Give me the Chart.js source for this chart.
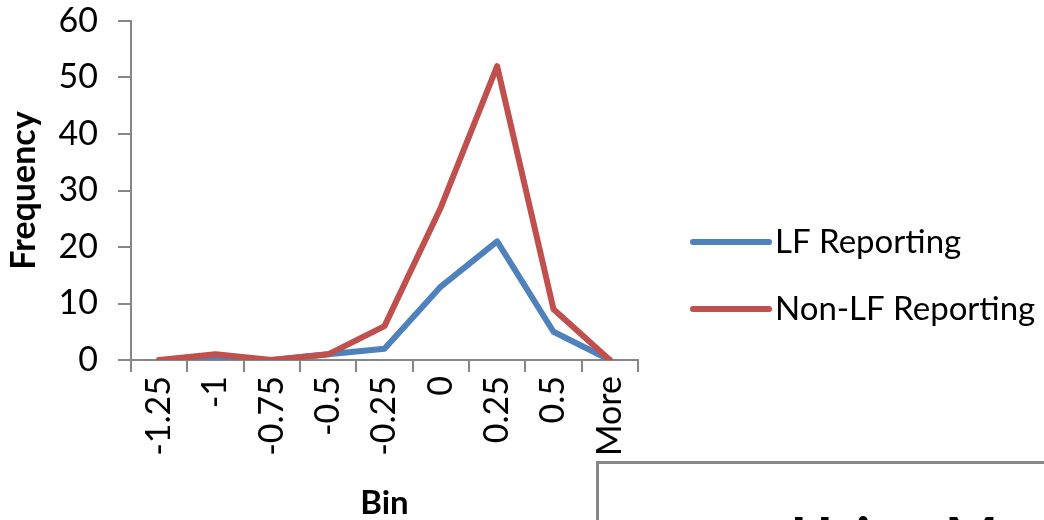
<!DOCTYPE html>
<html>
<head>
<meta charset="utf-8">
<script src="https://cdn.jsdelivr.net/npm/chart.js@4.4.1/dist/chart.umd.min.js"></script>
<style>
  html, body { margin: 0; padding: 0; background: #fff; }
  #wrap { position: relative; width: 1044px; height: 520px; overflow: hidden; }
  #chart { position: absolute; left: 0; top: 0; }
  #card {
    position: absolute; left: 596px; top: 461px; width: 600px; height: 200px;
    background: #fff; border-left: 3px solid #888; border-top: 3px solid #888;
    overflow: hidden;
  }
  #card span {
    position: absolute; left: 192px; top: 44px; white-space: nowrap;
    font: bold 56px Lato, sans-serif; color: #000; line-height: 1;
  }
</style>
</head>
<body>
<div id="wrap">
  <canvas id="chart" width="1044" height="520"></canvas>
  <div id="card"><span>Using Means</span></div>
</div>
<script>
// Histogram bins and frequency counts for the two reporting groups
const bins = ['-1.25', '-1', '-0.75', '-0.5', '-0.25', '0', '0.25', '0.5', 'More'];
const lfReporting = [0, 0, 0, 1, 2, 13, 21, 5, 0];
const nonLfReporting = [0, 1, 0, 1, 6, 27, 52, 9, 0];
const seriesNames = ['LF Reporting', 'Non-LF Reporting'];
const seriesColors = ['#4F81BD', '#C0504D'];

const axisGray = '#868686';
const tickFont = { family: 'Lato', size: 34 };

// Legend drawn to the right of the plot: a short line swatch and the series name
const sideLegend = {
  id: 'sideLegend',
  afterDraw(chart) {
    const { ctx, chartArea } = chart;
    const x0 = chartArea.right + 55;
    const rows = [242, 309];
    ctx.save();
    chart.data.datasets.forEach((ds, i) => {
      const y = rows[i];
      ctx.strokeStyle = ds.borderColor;
      ctx.lineWidth = 6;
      ctx.lineCap = 'round';
      ctx.beginPath();
      ctx.moveTo(x0, y);
      ctx.lineTo(x0 + 76, y);
      ctx.stroke();
      ctx.fillStyle = '#000';
      ctx.font = '33px Lato';
      ctx.textBaseline = 'middle';
      ctx.textAlign = 'left';
      ctx.fillText(ds.label, x0 + 82, y);
    });
    ctx.restore();
  }
};

new Chart(document.getElementById('chart'), {
  type: 'line',
  data: {
    labels: bins,
    datasets: [
      { label: seriesNames[0], data: lfReporting, borderColor: seriesColors[0], backgroundColor: seriesColors[0], order: 2 },
      { label: seriesNames[1], data: nonLfReporting, borderColor: seriesColors[1], backgroundColor: seriesColors[1], order: 1 }
    ]
  },
  options: {
    responsive: false,
    animation: false,
    layout: { padding: { top: 21, right: 406, left: 0, bottom: 0 } },
    elements: {
      line: { borderWidth: 6, tension: 0, borderCapStyle: 'round', borderJoinStyle: 'round' },
      point: { radius: 0, hoverRadius: 0 }
    },
    plugins: { legend: { display: false }, tooltip: { enabled: false } },
    scales: {
      x: {
        offset: true,
        grid: { offset: true, drawOnChartArea: false, drawTicks: true, tickLength: 12, color: axisGray, lineWidth: 2 },
        border: { display: true, color: axisGray, width: 2 },
        ticks: { color: '#000', font: tickFont, minRotation: 90, maxRotation: 90, padding: 4, autoSkip: false },
        title: { display: true, text: 'Bin', color: '#000', font: { family: 'Lato', size: 33, weight: 'bold' }, padding: { top: 0, bottom: -3 } },
        afterFit(s) { s.height = 160; }
      },
      y: {
        min: 0, max: 60,
        ticks: { stepSize: 10, color: '#000', font: tickFont, padding: 20 },
        grid: { drawOnChartArea: false, drawTicks: true, tickLength: 13, color: axisGray, lineWidth: 2 },
        border: { display: true, color: axisGray, width: 2 },
        title: { display: true, text: 'Frequency', color: '#000', font: { family: 'Lato', size: 34, weight: 'bold' }, padding: { top: 4, bottom: 0 } },
        afterFit(s) { s.width = 131; s.paddingTop = 0; s.paddingBottom = 0; }
      }
    }
  },
  plugins: [sideLegend]
});
</script>
</body>
</html>
